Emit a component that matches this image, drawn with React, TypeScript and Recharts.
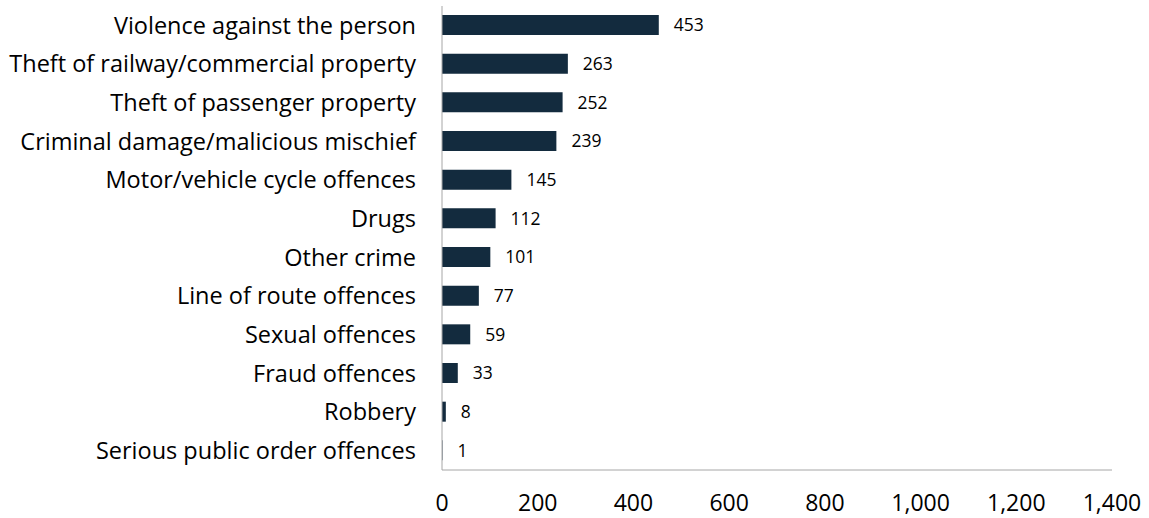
import React from 'react';
import { BarChart, Bar, XAxis, YAxis, LabelList } from 'recharts';

const categories = [
  'Violence against the person',
  'Theft of railway/commercial property',
  'Theft of passenger property',
  'Criminal damage/malicious mischief',
  'Motor/vehicle cycle offences',
  'Drugs',
  'Other crime',
  'Line of route offences',
  'Sexual offences',
  'Fraud offences',
  'Robbery',
  'Serious public order offences',
];

const offences = [453, 263, 252, 239, 145, 112, 101, 77, 59, 33, 8, 1];

const xTicks = [0, 200, 400, 600, 800, 1000, 1200, 1400];

const data = categories.map((name, i) => ({ name, value: offences[i] }));

const font = '"Open Sans", sans-serif';

export default function App() {
  return (
    <div style={{ position: 'absolute', left: 0, top: 0, fontFamily: font }}>
      <BarChart
        width={1149}
        height={518}
        data={data}
        layout="vertical"
        margin={{ top: 6, right: 37, left: 0, bottom: 0 }}
        barCategoryGap={0}
      >
        <XAxis
          type="number"
          domain={[0, 1400]}
          ticks={xTicks}
          tickFormatter={(v: number) => v.toLocaleString('en-US')}
          height={48}
          stroke="#a6a6a6"
          tickLine={false}
          tickMargin={19}
          tick={{ fill: '#000', fontSize: 23, fontFamily: font }}
          interval={0}
        />
        <YAxis
          type="category"
          dataKey="name"
          width={442}
          stroke="#a6a6a6"
          tickLine={false}
          tickMargin={20}
          tick={{ fill: '#000', fontSize: 23.5, fontFamily: font }}
          interval={0}
        />
        <Bar dataKey="value" fill="#132b3e" barSize={20} isAnimationActive={false}>
          <LabelList
            dataKey="value"
            position="right"
            offset={15}
            style={{ fill: '#000', fontSize: 17.5, fontFamily: font }}
          />
        </Bar>
      </BarChart>
    </div>
  );
}
